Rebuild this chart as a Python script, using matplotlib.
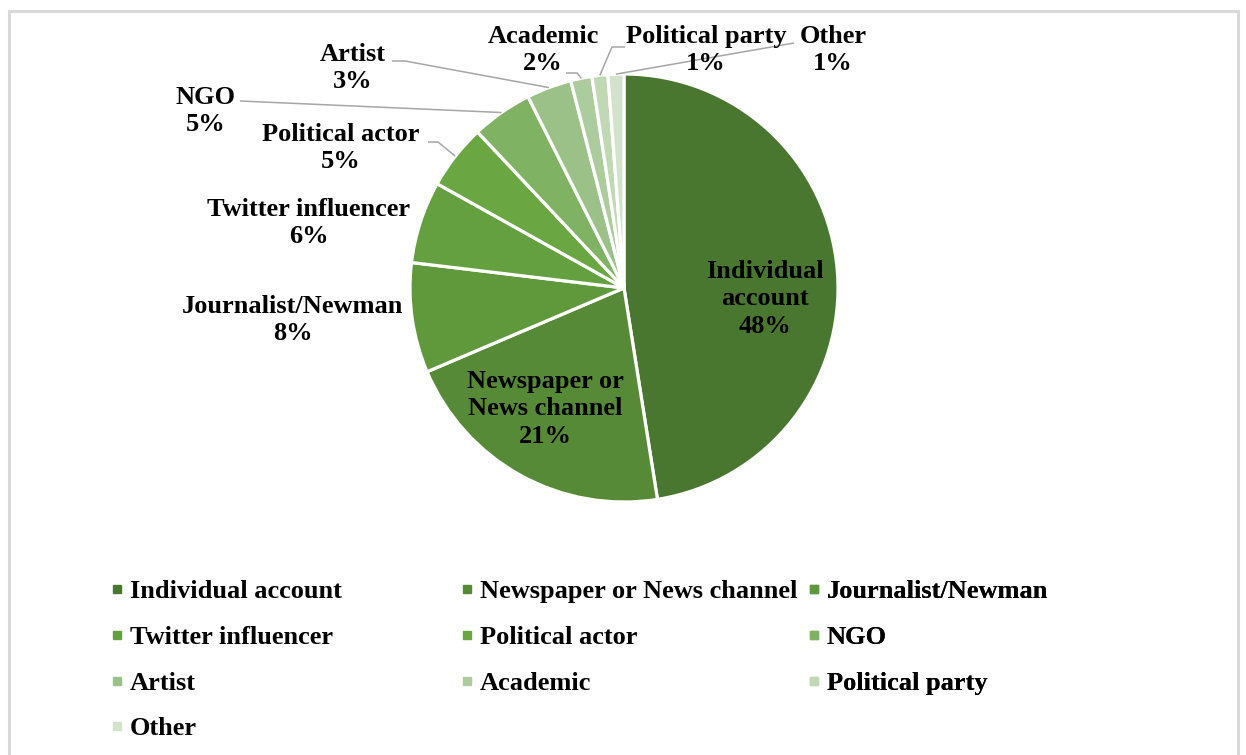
import matplotlib
matplotlib.use("Agg")
import matplotlib.pyplot as plt
from matplotlib.lines import Line2D
from matplotlib.patches import Rectangle
import numpy as np

# account types, share of accounts (%)
categories = ["Individual account", "Newspaper or News channel", "Journalist/Newman",
              "Twitter influencer", "Political actor", "NGO", "Artist", "Academic",
              "Political party", "Other"]
shares = [47.5, 21.1, 8.3, 6.2, 4.9, 4.6, 3.4, 1.6, 1.2, 1.2]
colors = ["#4a7730", "#578a36", "#60983c", "#65a040", "#6aa743",
          "#80b263", "#9bc188", "#accc9e", "#c1d8b4", "#d3e3cb"]
wrapped = {"Individual account": "Individual\naccount",
           "Newspaper or News channel": "Newspaper or\nNews channel"}

W, H = 1246, 755
CX, CY, R = 624, 288, 214   # pie centre / radius in pixels

def px(x, y):
    # pixel position -> data coords (pie radius = 1)
    return (x - CX) / R, (CY - y) / R

plt.rcParams['font.family'] = ['Liberation Serif', 'DejaVu Serif']
FS = 19

fig = plt.figure(figsize=(W / 100, H / 100), dpi=100)
ax = fig.add_axes([0, 0, 1, 1])
wedges, _ = ax.pie(shares, colors=colors, startangle=90, counterclock=False,
                   radius=1, center=(0, 0),
                   wedgeprops=dict(edgecolor='white', linewidth=2.3))
ax.set_aspect('auto')
ax.set_xlim(-CX / R, (W - CX) / R)
ax.set_ylim(-(H - CY) / R, CY / R)
ax.axis('off')

# mid angle of each wedge on the rim, for leader lines
cum = np.cumsum([0] + shares)
mid = (cum[:-1] + cum[1:]) / 2 / 100 * 2 * np.pi
rim = [(np.sin(a), np.cos(a)) for a in mid]

# label centre (pixels) and leader path start points (pixels), None = no leader
label_pos = [(765, 299), (545, 409), (293, 320), (309, 223), (341, 148),
             (206, 111), (353, 68), (543, 50), (706, 50), (833, 50)]
leaders = [None, None, None, None,
           [(428, 142), (438, 142)],
           [(240, 101)],
           [(392, 61), (405, 61)],
           [(566, 73), (577, 73)],
           [(625, 47), (612, 47)],
           [(794, 43)]]

for i, name in enumerate(categories):
    txt = wrapped.get(name, name) + "\n" + "%d%%" % round(shares[i])
    x, y = px(*label_pos[i])
    ax.text(x, y, txt, ha='center', va='center', fontsize=FS, fontweight='bold',
            linespacing=1.26, color='black')
    if leaders[i] is not None:
        pts = [px(*p) for p in leaders[i]] + [rim[i]]
        ax.plot([p[0] for p in pts], [p[1] for p in pts], color='#a6a6a6', lw=1.1,
                solid_capstyle='butt')

# legend: three columns laid out row by row
handles = [Line2D([], [], marker='s', linestyle='', color=c, markersize=5.5) for c in colors]
col_x = [110, 460, 807]
for k in range(3):
    idx = list(range(k, len(categories), 3))
    leg = ax.legend([handles[j] for j in idx], [categories[j] for j in idx],
                    loc='upper left', bbox_to_anchor=(col_x[k] / W, 1 - 580 / H),
                    bbox_transform=fig.transFigure, frameon=False,
                    prop=dict(size=FS, weight='bold'), borderpad=0, borderaxespad=0,
                    handlelength=0.5, handletextpad=0.25, labelspacing=0.84)
    ax.add_artist(leg)

# chart area border
fig.patches.append(Rectangle((8.5 / W, -0.05), (1238 - 8.5) / W, 1.05 - 10.5 / H,
                             transform=fig.transFigure, fill=False,
                             edgecolor='#d9d9d9', linewidth=2.2))

fig.savefig("out.png", dpi=100)
